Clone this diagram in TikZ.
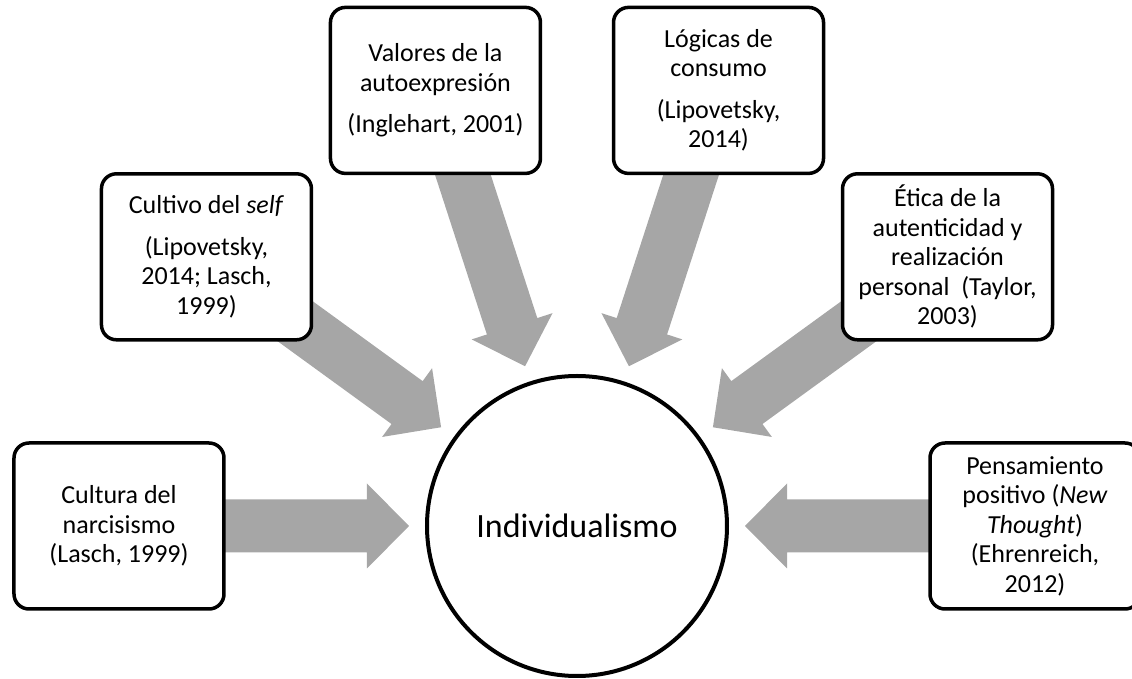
\documentclass[tikz,border=0pt]{standalone}
\usepackage{fontspec}
\setmainfont{Carlito}
\usetikzlibrary{
  calc,
  backgrounds,
  positioning
}
\definecolor{arrowgray}{RGB}{166,166,166}

\begin{document}
\begin{tikzpicture}[x=1pt,y=1pt,
    box/.style={draw,line width=3.5pt,rounded corners=15pt,fill=white,align=center,
      minimum width=210pt,minimum height=166pt,inner sep=0pt,
      font=\fontsize{26}{29.5}\selectfont},
    big/.style={draw,circle,line width=4pt,fill=white,minimum size=300pt,inner sep=0pt,
      font=\fontsize{34}{40}\selectfont},
    flow/.style={fill=arrowgray,to path={
      ($(\tikztotarget)!168pt!(\tikztostart)$) coordinate (tip)
      ($(tip)!42pt!(\tikztostart)$) coordinate (base)
      (tip) -- ($(base)!42.5pt!90:(\tikztostart)$)
      -- ($(base)!26.5pt!90:(\tikztostart)$)
      -- ($(\tikztostart)!26.5pt!-90:(tip)$)
      -- ($(\tikztostart)!26.5pt!90:(tip)$)
      -- ($(base)!26.5pt!-90:(\tikztostart)$)
      -- ($(base)!42.5pt!-90:(\tikztostart)$) -- cycle}}]
    \useasboundingbox (-577,-153) rectangle (555,526);
    \node[big] (0) at (0,0) {Individualismo};
    \node[box] (1) at (180:458) {Cultura del\\narcisismo\\(Lasch, 1999)};
    \node[box] (2) at (144:458) {Cultivo del \textit{self}\\[12pt](Lipovetsky,\\2014; Lasch,\\1999)};
    \node[box] (3) at (108:458) {Valores de la\\autoexpresión\\[12pt](Inglehart, 2001)};
    \node[box] (4) at (72:458) {Lógicas de\\consumo\\[12pt](Lipovetsky,\\2014)};
    \node[box] (5) at (36:458) {Ética de la\\autenticidad y\\realización\\personal\ \ (Taylor,\\2003)};
    \node[box] (6) at (0:458) {Pensamiento\\positivo (\textit{New}\\\textit{Thought})\\(Ehrenreich,\\2012)};

    \begin{scope}[on background layer]
      \foreach \n in {1,...,6}
        \path[flow] (\n) to (0);
    \end{scope}
  \end{tikzpicture}
\end{document}
